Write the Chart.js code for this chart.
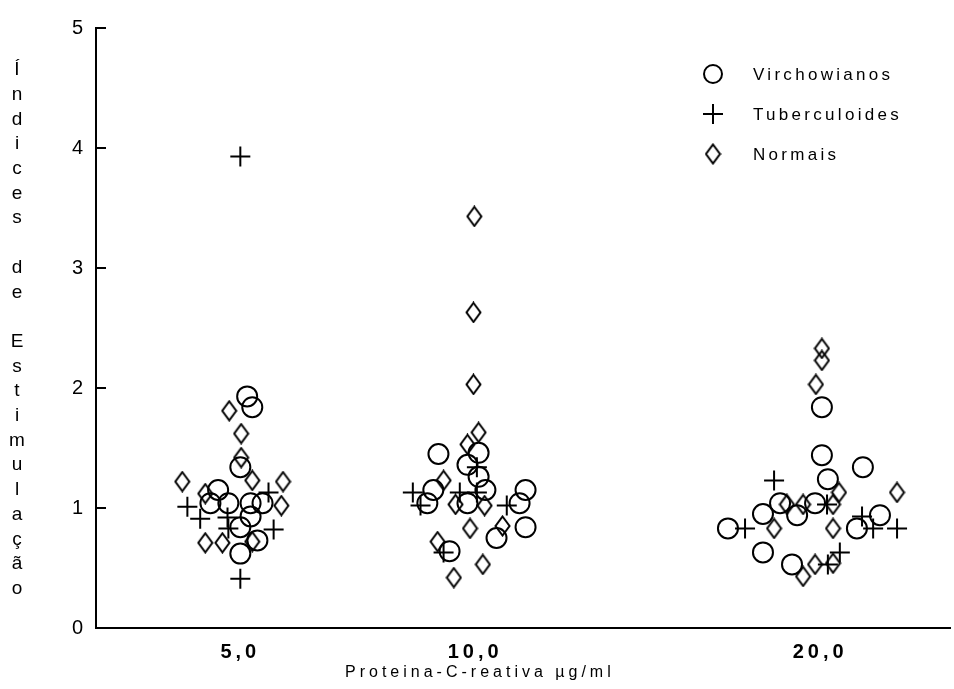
<!DOCTYPE html>
<html>
<head>
<meta charset="utf-8">
<script src="https://cdn.jsdelivr.net/npm/chart.js@4/dist/chart.umd.min.js"></script>
<style>
  html, body { margin: 0; background: #fff; overflow: hidden; }
  #wrap { width: 954px; height: 689px; }
  canvas { display: block; }
</style>
</head>
<body>
<div id="wrap"><canvas id="chart"></canvas></div>
<script>
// categories on the x axis and where each group sits on a 0-100 horizontal scale
const groups = ['5,0', '10,0', '20,0'];
const groupPos = [16.9, 44.4, 84.8];
const yTicks = [0, 1, 2, 3, 4, 5];

// each point: [group index, horizontal spread inside the group, índice de estimulação]
const virchowianos = [
  [0, 0.8, 1.93], [0, 1.4, 1.84], [0, 0, 1.34], [0, -2.6, 1.15], [0, -3.5, 1.04],
  [0, -1.4, 1.04], [0, 1.2, 1.04], [0, 2.6, 1.04], [0, 1.2, 0.93], [0, 0, 0.84],
  [0, 2.0, 0.73], [0, 0, 0.62],
  [1, -4.3, 1.45], [1, 0.4, 1.46], [1, -0.9, 1.36], [1, 0.4, 1.26], [1, -4.9, 1.15],
  [1, 1.2, 1.15], [1, 5.9, 1.15], [1, -5.6, 1.04], [1, -0.9, 1.04], [1, 5.2, 1.04],
  [1, 5.9, 0.84], [1, 2.5, 0.75], [1, -3.0, 0.64],
  [2, 0.2, 1.84], [2, 0.2, 1.44], [2, 5.0, 1.34], [2, 0.9, 1.24], [2, -4.7, 1.04],
  [2, -0.6, 1.04], [2, -2.7, 0.94], [2, -6.7, 0.95], [2, 7.0, 0.94], [2, -10.8, 0.83],
  [2, 4.3, 0.83], [2, -6.7, 0.63], [2, -3.3, 0.53]
];
const tuberculoides = [
  [0, 0, 3.93], [0, 3.3, 1.13], [0, -6.2, 1.01], [0, -4.7, 0.91], [0, -1.5, 0.92],
  [0, -1.4, 0.83], [0, 3.9, 0.82], [0, 0, 0.41],
  [1, 0.2, 1.34], [1, -7.3, 1.13], [1, -1.8, 1.13], [1, 0.2, 1.13], [1, -6.4, 1.02],
  [1, 3.7, 1.02], [1, -3.7, 0.63],
  [2, -5.4, 1.23], [2, 0.8, 1.03], [2, 4.9, 0.93], [2, -8.8, 0.83], [2, 6.2, 0.83],
  [2, 9.0, 0.83], [2, 2.3, 0.63], [2, 0.9, 0.53]
];
const normais = [
  [0, -1.3, 1.81], [0, 0.1, 1.62], [0, 0.1, 1.42], [0, 1.4, 1.23], [0, -6.8, 1.22],
  [0, 5.0, 1.22], [0, -4.1, 1.12], [0, 4.8, 1.02], [0, -4.1, 0.71], [0, -2.1, 0.71],
  [0, 1.4, 0.72],
  [1, -0.1, 3.43], [1, -0.2, 2.63], [1, -0.2, 2.03], [1, 0.4, 1.63], [1, -0.9, 1.53],
  [1, -3.7, 1.23], [1, -2.3, 1.03], [1, 1.1, 1.02], [1, -0.6, 0.83], [1, 3.2, 0.85],
  [1, -4.4, 0.72], [1, 0.9, 0.53], [1, -2.5, 0.42],
  [2, 0.2, 2.33], [2, 0.2, 2.23], [2, -0.5, 2.03], [2, 2.2, 1.13], [2, 9.0, 1.13],
  [2, -3.9, 1.03], [2, -2.0, 1.03], [2, 1.5, 1.03], [2, -5.4, 0.83], [2, 1.5, 0.83],
  [2, -0.6, 0.53], [2, 1.5, 0.54], [2, -2.0, 0.43]
];

const toXY = pts => pts.map(p => ({ x: groupPos[p[0]] + p[1], y: p[2] }));

const FONT = "'Liberation Sans', Arial, sans-serif";

// tall, narrow diamond used for "Normais"
function makeDiamond() {
  const c = document.createElement('canvas');
  c.width = 17; c.height = 22;
  const g = c.getContext('2d');
  g.strokeStyle = '#000';
  g.lineWidth = 2;
  g.beginPath();
  g.moveTo(8.5, 1.5); g.lineTo(15.5, 11); g.lineTo(8.5, 20.5); g.lineTo(1.5, 11);
  g.closePath();
  g.stroke();
  return c;
}
const diamond = makeDiamond();

const yTitle = ['Í','n','d','i','c','e','s','','d','e','','E','s','t','i','m','u','l','a','ç','ã','o'];

const decor = {
  id: 'decor',
  beforeDraw(chart) {
    // the typed labels of the original are widely spaced
    chart.ctx.letterSpacing = '4px';
  },
  afterDraw(chart) {
    const { ctx, chartArea, scales } = chart;
    ctx.save();
    ctx.letterSpacing = '0px';
    // inward ticks on y axis
    ctx.strokeStyle = '#000';
    ctx.lineWidth = 2;
    yTicks.forEach(v => {
      const y = scales.y.getPixelForValue(v);
      ctx.beginPath();
      ctx.moveTo(chartArea.left, y);
      ctx.lineTo(chartArea.left + 10, y);
      ctx.stroke();
    });
    // stacked y title
    ctx.fillStyle = '#000';
    ctx.font = '19px ' + FONT;
    ctx.textAlign = 'center';
    ctx.textBaseline = 'middle';
    yTitle.forEach((ch, i) => {
      if (ch) ctx.fillText(ch, 17, 70 + i * 24.7);
    });
    // x title
    ctx.letterSpacing = '4px';
    ctx.font = '16px ' + FONT;
    ctx.textAlign = 'left';
    ctx.fillText('Proteina-C-reativa µg/ml', 345, 673);
    // legend
    const names = ['Virchowianos', 'Tuberculoides', 'Normais'];
    ctx.letterSpacing = '3.3px';
    ctx.font = '17px ' + FONT;
    names.forEach((n, i) => {
      const cy = 74 + i * 40, cx = 713;
      ctx.beginPath();
      if (i === 0) {
        ctx.arc(cx, cy, 9, 0, Math.PI * 2);
        ctx.stroke();
      } else if (i === 1) {
        ctx.moveTo(cx - 10, cy); ctx.lineTo(cx + 10, cy);
        ctx.moveTo(cx, cy - 10); ctx.lineTo(cx, cy + 10);
        ctx.stroke();
      } else {
        ctx.drawImage(diamond, cx - 8.5, cy - 11);
      }
      ctx.fillText(n, 753, cy + 1);
    });
    ctx.restore();
  }
};

new Chart(document.getElementById('chart'), {
  type: 'scatter',
  data: {
    datasets: [
      { label: 'Virchowianos', data: toXY(virchowianos), pointStyle: 'circle', radius: 10,
        borderColor: '#000', backgroundColor: 'rgba(0,0,0,0)', borderWidth: 2 },
      { label: 'Tuberculoides', data: toXY(tuberculoides), pointStyle: 'cross', radius: 10,
        borderColor: '#000', backgroundColor: 'rgba(0,0,0,0)', borderWidth: 2 },
      { label: 'Normais', data: toXY(normais), pointStyle: diamond,
        borderColor: '#000', backgroundColor: 'rgba(0,0,0,0)' }
    ]
  },
  options: {
    responsive: true,
    maintainAspectRatio: false,
    animation: false,
    devicePixelRatio: 1,
    layout: { autoPadding: false, padding: { top: 28, right: 4, left: 0, bottom: 0 } },
    plugins: { legend: { display: false }, tooltip: { enabled: false } },
    scales: {
      x: {
        type: 'linear', min: 0, max: 100,
        afterBuildTicks: s => { s.ticks = groupPos.map(v => ({ value: v })); },
        afterFit: s => { s.height = 61; },
        ticks: {
          color: '#000', padding: 12,
          font: { family: FONT, size: 20, weight: 'bold' },
          callback: v => groups[groupPos.indexOf(v)]
        },
        grid: { drawOnChartArea: false, drawTicks: false },
        border: { color: '#000', width: 2 }
      },
      y: {
        min: 0, max: 5,
        afterBuildTicks: s => { s.ticks = yTicks.map(v => ({ value: v })); },
        afterFit: s => { s.width = 96; },
        ticks: { color: '#000', padding: 9, font: { family: FONT, size: 20 } },
        grid: { drawOnChartArea: false, drawTicks: false },
        border: { color: '#000', width: 2 }
      }
    }
  },
  plugins: [decor]
});
</script>
</body>
</html>
